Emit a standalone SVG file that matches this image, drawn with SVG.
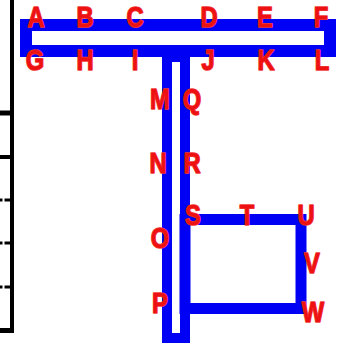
<svg xmlns="http://www.w3.org/2000/svg" width="347" height="346" viewBox="0 0 347 346">
<style>
.blk{stroke:#000;fill:none}
.blue{stroke:#0000f4;fill:none;stroke-linejoin:miter}
.lbl{font-family:"Liberation Sans",Arial,sans-serif;font-weight:bold;font-size:29px;fill:#ee1111;stroke:#f03a3a;stroke-width:1.6;stroke-linejoin:round;paint-order:stroke;text-anchor:middle}
</style>
<rect width="347" height="346" fill="#fff"/>
<g id="frame">
<line class="blk" x1="12" y1="0" x2="12" y2="333" stroke-width="4"/>
<line class="blk" x1="0" y1="113" x2="12" y2="113" stroke-width="5"/>
<line class="blk" x1="0" y1="157" x2="12" y2="157" stroke-width="4"/>
<line class="blk" x1="0" y1="200" x2="2.5" y2="200" stroke-width="3"/>
<line class="blk" x1="4.5" y1="200" x2="12" y2="200" stroke-width="3"/>
<line class="blk" x1="0" y1="243" x2="2.5" y2="243" stroke-width="3"/>
<line class="blk" x1="4.5" y1="243" x2="12" y2="243" stroke-width="3"/>
<line class="blk" x1="0" y1="287" x2="2.5" y2="287" stroke-width="3"/>
<line class="blk" x1="4.5" y1="287" x2="12" y2="287" stroke-width="3"/>
<line class="blk" x1="0" y1="330.5" x2="14" y2="330.5" stroke-width="5"/>
</g>
<g id="track">
<rect id="bar" class="blue" x="26" y="25" width="304" height="26" stroke-width="12"/>
<rect id="stem" class="blue" x="167" y="57" width="18" height="281" stroke-width="10"/>
<rect id="loop" class="blue" x="185" y="219.5" width="116" height="89" stroke-width="11"/>
</g>
<g id="labels">
<text class="lbl" transform="translate(36,27) scale(0.82,1)">A</text>
<text class="lbl" transform="translate(85,27) scale(0.82,1)">B</text>
<text class="lbl" transform="translate(135,27) scale(0.82,1)">C</text>
<text class="lbl" transform="translate(209,27) scale(0.82,1)">D</text>
<text class="lbl" transform="translate(265,27) scale(0.82,1)">E</text>
<text class="lbl" transform="translate(321,27) scale(0.82,1)">F</text>
<text class="lbl" transform="translate(35,70) scale(0.82,1)">G</text>
<text class="lbl" transform="translate(85,70) scale(0.82,1)">H</text>
<text class="lbl" transform="translate(135,70) scale(0.82,1)">I</text>
<text class="lbl" transform="translate(208,70) scale(0.82,1)">J</text>
<text class="lbl" transform="translate(266,70) scale(0.82,1)">K</text>
<text class="lbl" transform="translate(322,70) scale(0.82,1)">L</text>
<text class="lbl" transform="translate(160,109) scale(0.82,1)">M</text>
<text class="lbl" transform="translate(158,173) scale(0.82,1)">N</text>
<text class="lbl" transform="translate(160,248) scale(0.82,1)">O</text>
<text class="lbl" transform="translate(160,313) scale(0.82,1)">P</text>
<text class="lbl" transform="translate(192,109) scale(0.82,1)">Q</text>
<text class="lbl" transform="translate(192,173) scale(0.82,1)">R</text>
<text class="lbl" transform="translate(193,225) scale(0.82,1)">S</text>
<text class="lbl" transform="translate(247,225) scale(0.82,1)">T</text>
<text class="lbl" transform="translate(306,225) scale(0.82,1)">U</text>
<text class="lbl" transform="translate(312,273) scale(0.82,1)">V</text>
<text class="lbl" transform="translate(313,322) scale(0.82,1)">W</text>
</g>
</svg>
